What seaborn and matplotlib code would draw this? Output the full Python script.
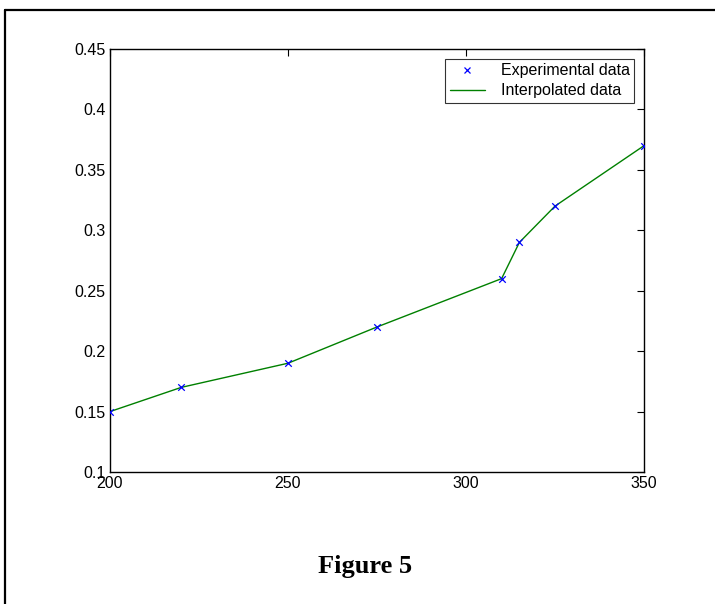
import matplotlib
matplotlib.use("Agg")
import matplotlib.pyplot as plt
import seaborn as sns
import pandas as pd
from matplotlib.lines import Line2D

temperature = [200, 220, 250, 275, 310, 315, 325, 350]
values = [0.15, 0.17, 0.19, 0.22, 0.26, 0.29, 0.32, 0.37]
x_ticks = [200, 250, 300, 350]
y_ticks = [0.1, 0.15, 0.2, 0.25, 0.3, 0.35, 0.4, 0.45]
y_tick_labels = ["0.1", "0.15", "0.2", "0.25", "0.3", "0.35", "0.4", "0.45"]
legend_labels = ["Experimental data", "Interpolated data"]
caption = "Figure 5"

df = pd.DataFrame({"x": temperature, "y": values})

sns.set_style("white")
plt.rcParams["font.family"] = ["Liberation Sans", "DejaVu Sans"]
plt.rcParams["text.color"] = "black"

W, H = 715, 604
fig = plt.figure(figsize=(W / 100, H / 100), dpi=100)
ax = fig.add_axes([110 / W, 1 - 472 / H, (644 - 110) / W, (472 - 49) / H])

sns.lineplot(data=df, x="x", y="y", ax=ax, color="#008000", linewidth=1.0,
             estimator=None, sort=False)
sns.scatterplot(data=df, x="x", y="y", ax=ax, marker="x", color="#0000ff",
                s=22, linewidth=0.9, zorder=3)

ax.set_xlim(200, 350)
ax.set_ylim(0.1, 0.45)
ax.set_xticks(x_ticks)
ax.set_xticklabels([str(t) for t in x_ticks])
ax.set_yticks(y_ticks)
ax.set_yticklabels(y_tick_labels)
ax.set_xlabel("")
ax.set_ylabel("")
ax.tick_params(direction="in", length=5, width=0.8, top=True, right=True,
               labelsize=11.5, colors="black", pad=3)
for s in ax.spines.values():
    s.set_visible(True)
    s.set_color("black")
    s.set_linewidth(1.0)

handles = [
    Line2D([], [], marker="x", linestyle="none", color="#0000ff", markersize=5,
           markeredgewidth=0.9),
    Line2D([], [], color="#008000", linewidth=1.0),
]
leg = ax.legend(handles, legend_labels, loc="upper right", fontsize=11.5,
                frameon=True, fancybox=False, edgecolor="black",
                borderaxespad=0.6, handlelength=2.2, borderpad=0.3,
                labelspacing=0.3, handletextpad=1.0)
leg.get_frame().set_linewidth(0.8)
leg.get_frame().set_facecolor("white")

# page border (top and left edges)
fig.add_artist(Line2D([5 / W, 5 / W], [0, 1 - 10 / H], transform=fig.transFigure,
                      color="black", linewidth=1.6))
fig.add_artist(Line2D([5 / W, 1], [1 - 10 / H, 1 - 10 / H], transform=fig.transFigure,
                      color="black", linewidth=1.6))

fig.text(365 / W, 1 - 567 / H, caption, ha="center", va="center", color="black",
         fontsize=19, fontweight="bold", family=["Liberation Serif", "DejaVu Serif"])

fig.savefig("out.png", dpi=100)
